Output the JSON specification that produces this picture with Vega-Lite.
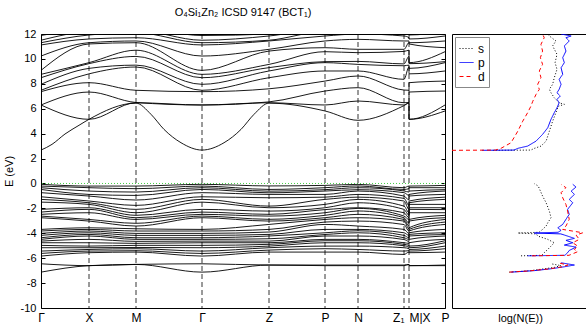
{
"$schema": "https://vega.github.io/schema/vega-lite/v6.json",
"background": "white",
"padding": {"left": 2, "top": 6, "right": 0, "bottom": 0},
"config": {"font": "Liberation Sans", "view": {"stroke": "black", "strokeWidth": 1}, "axis": {"labelFont": "Liberation Sans", "titleFont": "Liberation Sans", "labelColor": "black", "titleColor": "black", "labelFontSize": 11, "titleFontSize": 11, "titleFontWeight": "normal"}, "legend": {"labelFont": "Liberation Sans"}},
"spacing": 1,
"resolve": {"legend": {"color": "independent", "strokeDash": "independent"}},
"datasets": {
"kpts": [{"k":48},{"k":95},{"k":161},{"k":228},{"k":284},{"k":317},{"k":363},{"k":368}],
"bands": [
{"b":"c1","k":0,"E":2.68},{"b":"c1","k":11,"E":3.14},{"b":"c1","k":24,"E":3.97},{"b":"c1","k":38,"E":4.67},{"b":"c1","k":48,"E":5.15},{"b":"c1","k":95,"E":6.45},{"b":"c1","k":110,"E":5.55},{"b":"c1","k":123,"E":4.34},{"b":"c1","k":140,"E":3.27},{"b":"c1","k":161,"E":2.68},{"b":"c1","k":183,"E":3.27},{"b":"c1","k":200,"E":4.34},{"b":"c1","k":213,"E":5.55},{"b":"c1","k":228,"E":6.45},{"b":"c1","k":284,"E":5.82},{"b":"c1","k":317,"E":5.07},{"b":"c1","k":363,"E":6.25},{"b":"c1","k":368,"E":6.45},{"b":"c1","k":368.01,"E":5.15},{"b":"c1","k":404,"E":5.82},
{"b":"c2","k":0,"E":6.3},{"b":"c2","k":48,"E":5.15},{"b":"c2","k":95,"E":6.48},{"b":"c2","k":161,"E":6.3},{"b":"c2","k":228,"E":6.48},{"b":"c2","k":284,"E":6.3},{"b":"c2","k":317,"E":6.62},{"b":"c2","k":363,"E":6.3},{"b":"c2","k":368,"E":6.48},{"b":"c2","k":368.01,"E":5.15},{"b":"c2","k":404,"E":6.3},
{"b":"c3","k":0,"E":6.3},{"b":"c3","k":48,"E":7.34},{"b":"c3","k":95,"E":6.5},{"b":"c3","k":161,"E":6.3},{"b":"c3","k":228,"E":6.55},{"b":"c3","k":284,"E":7.42},{"b":"c3","k":317,"E":7.69},{"b":"c3","k":363,"E":6.48},{"b":"c3","k":368,"E":6.5},{"b":"c3","k":368.01,"E":7.34},{"b":"c3","k":404,"E":7.42},
{"b":"c4","k":0,"E":7.37},{"b":"c4","k":48,"E":8.09},{"b":"c4","k":95,"E":7.48},{"b":"c4","k":161,"E":7.37},{"b":"c4","k":228,"E":7.6},{"b":"c4","k":284,"E":8.22},{"b":"c4","k":317,"E":8.63},{"b":"c4","k":363,"E":7.5},{"b":"c4","k":368,"E":7.48},{"b":"c4","k":368.01,"E":8.09},{"b":"c4","k":404,"E":8.22},
{"b":"c5","k":0,"E":7.48},{"b":"c5","k":48,"E":8.8},{"b":"c5","k":95,"E":9.35},{"b":"c5","k":161,"E":7.48},{"b":"c5","k":228,"E":8.49},{"b":"c5","k":284,"E":9.03},{"b":"c5","k":317,"E":9.03},{"b":"c5","k":363,"E":8.36},{"b":"c5","k":368,"E":9.35},{"b":"c5","k":368.01,"E":8.8},{"b":"c5","k":404,"E":9.03},
{"b":"c6","k":0,"E":7.96},{"b":"c6","k":48,"E":9.24},{"b":"c6","k":95,"E":9.5},{"b":"c6","k":161,"E":7.96},{"b":"c6","k":228,"E":9.03},{"b":"c6","k":284,"E":9.7},{"b":"c6","k":317,"E":9.56},{"b":"c6","k":363,"E":9.45},{"b":"c6","k":368,"E":9.5},{"b":"c6","k":368.01,"E":9.24},{"b":"c6","k":404,"E":9.7},
{"b":"c7","k":0,"E":8.49},{"b":"c7","k":48,"E":9.62},{"b":"c7","k":95,"E":10.2},{"b":"c7","k":161,"E":8.49},{"b":"c7","k":228,"E":9.3},{"b":"c7","k":284,"E":9.78},{"b":"c7","k":317,"E":9.8},{"b":"c7","k":363,"E":9.6},{"b":"c7","k":368,"E":10.2},{"b":"c7","k":368.01,"E":9.62},{"b":"c7","k":404,"E":9.78},
{"b":"c8","k":0,"E":8.76},{"b":"c8","k":48,"E":9.7},{"b":"c8","k":95,"E":10.7},{"b":"c8","k":161,"E":8.76},{"b":"c8","k":228,"E":9.56},{"b":"c8","k":284,"E":10.58},{"b":"c8","k":317,"E":10.5},{"b":"c8","k":363,"E":10.6},{"b":"c8","k":368,"E":10.7},{"b":"c8","k":368.01,"E":9.7},{"b":"c8","k":404,"E":10.58},
{"b":"c9","k":0,"E":9.08},{"b":"c9","k":48,"E":11.2},{"b":"c9","k":95,"E":11.3},{"b":"c9","k":161,"E":9.08},{"b":"c9","k":228,"E":10.63},{"b":"c9","k":284,"E":10.9},{"b":"c9","k":317,"E":10.77},{"b":"c9","k":363,"E":10.77},{"b":"c9","k":368,"E":11.3},{"b":"c9","k":368.01,"E":11.2},{"b":"c9","k":404,"E":10.9},
{"b":"c10","k":0,"E":10.23},{"b":"c10","k":48,"E":11.3},{"b":"c10","k":95,"E":11.44},{"b":"c10","k":161,"E":10.23},{"b":"c10","k":228,"E":10.77},{"b":"c10","k":284,"E":11.44},{"b":"c10","k":317,"E":11.57},{"b":"c10","k":363,"E":11.44},{"b":"c10","k":368,"E":11.44},{"b":"c10","k":368.01,"E":11.3},{"b":"c10","k":404,"E":11.44},
{"b":"c11","k":0,"E":11.12},{"b":"c11","k":48,"E":11.6},{"b":"c11","k":95,"E":11.7},{"b":"c11","k":161,"E":11.12},{"b":"c11","k":228,"E":11.44},{"b":"c11","k":284,"E":11.84},{"b":"c11","k":317,"E":12.0},{"b":"c11","k":363,"E":11.84},{"b":"c11","k":368,"E":11.7},{"b":"c11","k":368.01,"E":11.6},{"b":"c11","k":404,"E":11.84},
{"b":"c12","k":0,"E":11.3},{"b":"c12","k":48,"E":11.92},{"b":"c12","k":95,"E":12.1},{"b":"c12","k":161,"E":11.3},{"b":"c12","k":228,"E":11.5},{"b":"c12","k":284,"E":12.2},{"b":"c12","k":317,"E":12.2},{"b":"c12","k":363,"E":12.1},{"b":"c12","k":368,"E":12.1},{"b":"c12","k":368.01,"E":11.92},{"b":"c12","k":404,"E":12.2},
{"b":"c13","k":0,"E":11.5},{"b":"c13","k":48,"E":12.2},{"b":"c13","k":95,"E":12.3},{"b":"c13","k":161,"E":11.5},{"b":"c13","k":228,"E":11.84},{"b":"c13","k":284,"E":12.4},{"b":"c13","k":317,"E":12.4},{"b":"c13","k":363,"E":12.3},{"b":"c13","k":368,"E":12.3},{"b":"c13","k":368.01,"E":12.2},{"b":"c13","k":404,"E":12.4},
{"b":"c14","k":0,"E":11.88},{"b":"c14","k":48,"E":12.4},{"b":"c14","k":95,"E":12.5},{"b":"c14","k":161,"E":11.88},{"b":"c14","k":228,"E":12.0},{"b":"c14","k":284,"E":12.6},{"b":"c14","k":317,"E":12.6},{"b":"c14","k":363,"E":12.5},{"b":"c14","k":368,"E":12.5},{"b":"c14","k":368.01,"E":12.4},{"b":"c14","k":404,"E":12.6},
{"b":"v1","k":0,"E":-0.07},{"b":"v1","k":48,"E":-0.21},{"b":"v1","k":95,"E":-0.21},{"b":"v1","k":161,"E":-0.07},{"b":"v1","k":228,"E":-0.2},{"b":"v1","k":284,"E":-0.155},{"b":"v1","k":317,"E":-0.075},{"b":"v1","k":363,"E":-0.34},{"b":"v1","k":368,"E":-0.21},{"b":"v1","k":368.01,"E":-0.21},{"b":"v1","k":404,"E":-0.155},
{"b":"v2","k":0,"E":-0.21},{"b":"v2","k":48,"E":-0.34},{"b":"v2","k":95,"E":-0.42},{"b":"v2","k":161,"E":-0.21},{"b":"v2","k":228,"E":-0.48},{"b":"v2","k":284,"E":-0.34},{"b":"v2","k":317,"E":-0.2},{"b":"v2","k":363,"E":-0.48},{"b":"v2","k":368,"E":-0.42},{"b":"v2","k":368.01,"E":-0.34},{"b":"v2","k":404,"E":-0.34},
{"b":"v3","k":0,"E":-0.34},{"b":"v3","k":48,"E":-0.61},{"b":"v3","k":95,"E":-0.69},{"b":"v3","k":161,"E":-0.34},{"b":"v3","k":228,"E":-0.62},{"b":"v3","k":284,"E":-0.5},{"b":"v3","k":317,"E":-0.34},{"b":"v3","k":363,"E":-0.6},{"b":"v3","k":368,"E":-0.69},{"b":"v3","k":368.01,"E":-0.61},{"b":"v3","k":404,"E":-0.5},
{"b":"v4","k":0,"E":-0.48},{"b":"v4","k":48,"E":-0.88},{"b":"v4","k":95,"E":-0.96},{"b":"v4","k":161,"E":-0.48},{"b":"v4","k":228,"E":-0.75},{"b":"v4","k":284,"E":-0.61},{"b":"v4","k":317,"E":-0.5},{"b":"v4","k":363,"E":-0.74},{"b":"v4","k":368,"E":-0.96},{"b":"v4","k":368.01,"E":-0.88},{"b":"v4","k":404,"E":-0.61},
{"b":"v5","k":0,"E":-0.74},{"b":"v5","k":48,"E":-1.01},{"b":"v5","k":95,"E":-1.33},{"b":"v5","k":161,"E":-0.74},{"b":"v5","k":228,"E":-0.88},{"b":"v5","k":284,"E":-0.88},{"b":"v5","k":317,"E":-0.61},{"b":"v5","k":363,"E":-1.01},{"b":"v5","k":368,"E":-1.33},{"b":"v5","k":368.01,"E":-1.01},{"b":"v5","k":404,"E":-0.88},
{"b":"v6","k":0,"E":-1.07},{"b":"v6","k":48,"E":-1.41},{"b":"v6","k":95,"E":-1.76},{"b":"v6","k":161,"E":-1.07},{"b":"v6","k":228,"E":-1.15},{"b":"v6","k":284,"E":-1.1},{"b":"v6","k":317,"E":-0.88},{"b":"v6","k":363,"E":-1.2},{"b":"v6","k":368,"E":-1.76},{"b":"v6","k":368.01,"E":-1.41},{"b":"v6","k":404,"E":-1.1},
{"b":"v7","k":0,"E":-1.28},{"b":"v7","k":48,"E":-1.55},{"b":"v7","k":95,"E":-2.08},{"b":"v7","k":161,"E":-1.28},{"b":"v7","k":228,"E":-1.82},{"b":"v7","k":284,"E":-1.28},{"b":"v7","k":317,"E":-1.1},{"b":"v7","k":363,"E":-1.41},{"b":"v7","k":368,"E":-2.08},{"b":"v7","k":368.01,"E":-1.55},{"b":"v7","k":404,"E":-1.28},
{"b":"v8","k":0,"E":-1.5},{"b":"v8","k":48,"E":-1.68},{"b":"v8","k":95,"E":-2.35},{"b":"v8","k":161,"E":-1.5},{"b":"v8","k":228,"E":-1.95},{"b":"v8","k":284,"E":-1.68},{"b":"v8","k":317,"E":-1.28},{"b":"v8","k":363,"E":-1.82},{"b":"v8","k":368,"E":-2.35},{"b":"v8","k":368.01,"E":-1.68},{"b":"v8","k":404,"E":-1.68},
{"b":"v9","k":0,"E":-2.08},{"b":"v9","k":48,"E":-1.95},{"b":"v9","k":95,"E":-2.56},{"b":"v9","k":161,"E":-2.08},{"b":"v9","k":228,"E":-2.22},{"b":"v9","k":284,"E":-1.95},{"b":"v9","k":317,"E":-1.55},{"b":"v9","k":363,"E":-2.08},{"b":"v9","k":368,"E":-2.56},{"b":"v9","k":368.01,"E":-1.95},{"b":"v9","k":404,"E":-1.95},
{"b":"v10","k":0,"E":-2.3},{"b":"v10","k":48,"E":-2.08},{"b":"v10","k":95,"E":-2.75},{"b":"v10","k":161,"E":-2.3},{"b":"v10","k":228,"E":-2.48},{"b":"v10","k":284,"E":-2.1},{"b":"v10","k":317,"E":-1.95},{"b":"v10","k":363,"E":-2.35},{"b":"v10","k":368,"E":-2.75},{"b":"v10","k":368.01,"E":-2.08},{"b":"v10","k":404,"E":-2.1},
{"b":"v11","k":0,"E":-2.48},{"b":"v11","k":48,"E":-2.35},{"b":"v11","k":95,"E":-2.89},{"b":"v11","k":161,"E":-2.48},{"b":"v11","k":228,"E":-2.62},{"b":"v11","k":284,"E":-2.35},{"b":"v11","k":317,"E":-2.0},{"b":"v11","k":363,"E":-2.62},{"b":"v11","k":368,"E":-2.89},{"b":"v11","k":368.01,"E":-2.35},{"b":"v11","k":404,"E":-2.35},
{"b":"v12","k":0,"E":-2.62},{"b":"v12","k":48,"E":-2.89},{"b":"v12","k":95,"E":-3.2},{"b":"v12","k":161,"E":-2.62},{"b":"v12","k":228,"E":-2.88},{"b":"v12","k":284,"E":-2.56},{"b":"v12","k":317,"E":-2.21},{"b":"v12","k":363,"E":-2.75},{"b":"v12","k":368,"E":-3.2},{"b":"v12","k":368.01,"E":-2.89},{"b":"v12","k":404,"E":-2.56},
{"b":"v13","k":0,"E":-2.75},{"b":"v13","k":48,"E":-3.02},{"b":"v13","k":95,"E":-3.42},{"b":"v13","k":161,"E":-2.75},{"b":"v13","k":228,"E":-3.02},{"b":"v13","k":284,"E":-2.75},{"b":"v13","k":317,"E":-2.48},{"b":"v13","k":363,"E":-2.89},{"b":"v13","k":368,"E":-3.42},{"b":"v13","k":368.01,"E":-3.02},{"b":"v13","k":404,"E":-2.75},
{"b":"v14","k":0,"E":-3.69},{"b":"v14","k":48,"E":-3.56},{"b":"v14","k":95,"E":-3.64},{"b":"v14","k":161,"E":-3.69},{"b":"v14","k":228,"E":-3.29},{"b":"v14","k":284,"E":-2.89},{"b":"v14","k":317,"E":-2.75},{"b":"v14","k":363,"E":-3.02},{"b":"v14","k":368,"E":-3.64},{"b":"v14","k":368.01,"E":-3.56},{"b":"v14","k":404,"E":-2.89},
{"b":"v15","k":0,"E":-3.82},{"b":"v15","k":48,"E":-3.69},{"b":"v15","k":95,"E":-3.82},{"b":"v15","k":161,"E":-3.82},{"b":"v15","k":228,"E":-3.69},{"b":"v15","k":284,"E":-3.1},{"b":"v15","k":317,"E":-3.02},{"b":"v15","k":363,"E":-3.3},{"b":"v15","k":368,"E":-3.82},{"b":"v15","k":368.01,"E":-3.69},{"b":"v15","k":404,"E":-3.1},
{"b":"v16","k":0,"E":-4.01},{"b":"v16","k":48,"E":-3.82},{"b":"v16","k":95,"E":-4.01},{"b":"v16","k":161,"E":-4.01},{"b":"v16","k":228,"E":-3.9},{"b":"v16","k":284,"E":-3.29},{"b":"v16","k":317,"E":-3.42},{"b":"v16","k":363,"E":-3.69},{"b":"v16","k":368,"E":-4.01},{"b":"v16","k":368.01,"E":-3.82},{"b":"v16","k":404,"E":-3.29},
{"b":"v17","k":0,"E":-4.17},{"b":"v17","k":48,"E":-3.96},{"b":"v17","k":95,"E":-4.17},{"b":"v17","k":161,"E":-4.17},{"b":"v17","k":228,"E":-4.09},{"b":"v17","k":284,"E":-3.69},{"b":"v17","k":317,"E":-3.69},{"b":"v17","k":363,"E":-3.96},{"b":"v17","k":368,"E":-4.17},{"b":"v17","k":368.01,"E":-3.96},{"b":"v17","k":404,"E":-3.69},
{"b":"v18","k":0,"E":-4.36},{"b":"v18","k":48,"E":-4.09},{"b":"v18","k":95,"E":-4.36},{"b":"v18","k":161,"E":-4.36},{"b":"v18","k":228,"E":-4.22},{"b":"v18","k":284,"E":-3.96},{"b":"v18","k":317,"E":-3.8},{"b":"v18","k":363,"E":-4.17},{"b":"v18","k":368,"E":-4.36},{"b":"v18","k":368.01,"E":-4.09},{"b":"v18","k":404,"E":-3.96},
{"b":"v19","k":0,"E":-4.49},{"b":"v19","k":48,"E":-4.22},{"b":"v19","k":95,"E":-4.49},{"b":"v19","k":161,"E":-4.49},{"b":"v19","k":228,"E":-4.44},{"b":"v19","k":284,"E":-4.1},{"b":"v19","k":317,"E":-3.96},{"b":"v19","k":363,"E":-4.36},{"b":"v19","k":368,"E":-4.49},{"b":"v19","k":368.01,"E":-4.22},{"b":"v19","k":404,"E":-4.1},
{"b":"v20","k":0,"E":-4.63},{"b":"v20","k":48,"E":-4.49},{"b":"v20","k":95,"E":-4.65},{"b":"v20","k":161,"E":-4.63},{"b":"v20","k":228,"E":-4.63},{"b":"v20","k":284,"E":-4.22},{"b":"v20","k":317,"E":-4.22},{"b":"v20","k":363,"E":-4.5},{"b":"v20","k":368,"E":-4.65},{"b":"v20","k":368.01,"E":-4.49},{"b":"v20","k":404,"E":-4.22},
{"b":"v21","k":0,"E":-4.76},{"b":"v21","k":48,"E":-4.76},{"b":"v21","k":95,"E":-4.81},{"b":"v21","k":161,"E":-4.76},{"b":"v21","k":228,"E":-4.76},{"b":"v21","k":284,"E":-4.49},{"b":"v21","k":317,"E":-4.49},{"b":"v21","k":363,"E":-4.76},{"b":"v21","k":368,"E":-4.81},{"b":"v21","k":368.01,"E":-4.76},{"b":"v21","k":404,"E":-4.49},
{"b":"v22","k":0,"E":-4.97},{"b":"v22","k":48,"E":-5.03},{"b":"v22","k":95,"E":-4.97},{"b":"v22","k":161,"E":-4.97},{"b":"v22","k":228,"E":-4.89},{"b":"v22","k":284,"E":-4.6},{"b":"v22","k":317,"E":-4.6},{"b":"v22","k":363,"E":-4.89},{"b":"v22","k":368,"E":-4.97},{"b":"v22","k":368.01,"E":-5.03},{"b":"v22","k":404,"E":-4.6},
{"b":"v23","k":0,"E":-5.16},{"b":"v23","k":48,"E":-5.16},{"b":"v23","k":95,"E":-5.14},{"b":"v23","k":161,"E":-5.16},{"b":"v23","k":228,"E":-5.03},{"b":"v23","k":284,"E":-4.76},{"b":"v23","k":317,"E":-4.76},{"b":"v23","k":363,"E":-5.0},{"b":"v23","k":368,"E":-5.14},{"b":"v23","k":368.01,"E":-5.16},{"b":"v23","k":404,"E":-4.76},
{"b":"v24","k":0,"E":-5.43},{"b":"v24","k":48,"E":-5.3},{"b":"v24","k":95,"E":-5.24},{"b":"v24","k":161,"E":-5.43},{"b":"v24","k":228,"E":-5.16},{"b":"v24","k":284,"E":-5.03},{"b":"v24","k":317,"E":-5.03},{"b":"v24","k":363,"E":-5.16},{"b":"v24","k":368,"E":-5.24},{"b":"v24","k":368.01,"E":-5.3},{"b":"v24","k":404,"E":-5.03},
{"b":"v25","k":0,"E":-5.62},{"b":"v25","k":48,"E":-5.43},{"b":"v25","k":95,"E":-5.4},{"b":"v25","k":161,"E":-5.62},{"b":"v25","k":228,"E":-5.35},{"b":"v25","k":284,"E":-5.24},{"b":"v25","k":317,"E":-5.3},{"b":"v25","k":363,"E":-5.43},{"b":"v25","k":368,"E":-5.4},{"b":"v25","k":368.01,"E":-5.43},{"b":"v25","k":404,"E":-5.24},
{"b":"v26","k":0,"E":-5.83},{"b":"v26","k":48,"E":-5.56},{"b":"v26","k":95,"E":-5.51},{"b":"v26","k":161,"E":-5.83},{"b":"v26","k":228,"E":-5.51},{"b":"v26","k":284,"E":-5.51},{"b":"v26","k":317,"E":-5.51},{"b":"v26","k":363,"E":-5.7},{"b":"v26","k":368,"E":-5.51},{"b":"v26","k":368.01,"E":-5.56},{"b":"v26","k":404,"E":-5.51},
{"b":"v27","k":0,"E":-6.45},{"b":"v27","k":48,"E":-6.6},{"b":"v27","k":95,"E":-6.5},{"b":"v27","k":161,"E":-6.45},{"b":"v27","k":228,"E":-6.55},{"b":"v27","k":284,"E":-6.55},{"b":"v27","k":317,"E":-6.55},{"b":"v27","k":363,"E":-6.55},{"b":"v27","k":368,"E":-6.5},{"b":"v27","k":368.01,"E":-6.6},{"b":"v27","k":404,"E":-6.55},
{"b":"v28","k":0,"E":-7.12},{"b":"v28","k":48,"E":-6.6},{"b":"v28","k":95,"E":-6.5},{"b":"v28","k":161,"E":-7.12},{"b":"v28","k":228,"E":-6.55},{"b":"v28","k":284,"E":-6.6},{"b":"v28","k":317,"E":-6.6},{"b":"v28","k":363,"E":-6.6},{"b":"v28","k":368,"E":-6.5},{"b":"v28","k":368.01,"E":-6.6},{"b":"v28","k":404,"E":-6.6}
],
"dos": [
{"o":"s","p":"c","E":2.66,"u":1.5},{"o":"s","p":"c","E":2.68,"u":2.9},{"o":"s","p":"c","E":2.82,"u":3.03},{"o":"s","p":"c","E":3.0,"u":3.27},{"o":"s","p":"c","E":3.4,"u":3.46},{"o":"s","p":"c","E":4.2,"u":3.58},{"o":"s","p":"c","E":5.0,"u":3.7},{"o":"s","p":"c","E":5.68,"u":3.82},{"o":"s","p":"c","E":6.2,"u":3.91},{"o":"s","p":"c","E":6.35,"u":4.13},{"o":"s","p":"c","E":6.48,"u":3.94},{"o":"s","p":"c","E":6.88,"u":3.76},{"o":"s","p":"c","E":7.28,"u":3.64},{"o":"s","p":"c","E":7.56,"u":3.58},{"o":"s","p":"c","E":7.96,"u":3.7},{"o":"s","p":"c","E":8.49,"u":3.76},{"o":"s","p":"c","E":9.16,"u":3.86},{"o":"s","p":"c","E":9.7,"u":3.79},{"o":"s","p":"c","E":10.37,"u":3.86},{"o":"s","p":"c","E":11.04,"u":3.7},{"o":"s","p":"c","E":11.44,"u":3.82},{"o":"s","p":"c","E":11.84,"u":3.58},{"o":"s","p":"c","E":12.0,"u":3.52},
{"o":"p","p":"c","E":2.66,"u":1.1},{"o":"p","p":"c","E":2.68,"u":2.28},{"o":"p","p":"c","E":2.82,"u":2.42},{"o":"p","p":"c","E":3.0,"u":2.78},{"o":"p","p":"c","E":3.4,"u":3.09},{"o":"p","p":"c","E":3.94,"u":3.33},{"o":"p","p":"c","E":4.47,"u":3.52},{"o":"p","p":"c","E":5.15,"u":3.64},{"o":"p","p":"c","E":5.68,"u":3.76},{"o":"p","p":"c","E":6.08,"u":3.86},{"o":"p","p":"c","E":6.48,"u":3.94},{"o":"p","p":"c","E":6.75,"u":3.86},{"o":"p","p":"c","E":7.02,"u":3.98},{"o":"p","p":"c","E":7.28,"u":3.86},{"o":"p","p":"c","E":7.56,"u":3.94},{"o":"p","p":"c","E":7.96,"u":4.01},{"o":"p","p":"c","E":8.36,"u":3.94},{"o":"p","p":"c","E":8.76,"u":4.07},{"o":"p","p":"c","E":9.29,"u":4.01},{"o":"p","p":"c","E":9.7,"u":4.13},{"o":"p","p":"c","E":10.1,"u":4.07},{"o":"p","p":"c","E":10.63,"u":4.19},{"o":"p","p":"c","E":11.04,"u":4.13},{"o":"p","p":"c","E":11.44,"u":4.31},{"o":"p","p":"c","E":11.7,"u":4.19},{"o":"p","p":"c","E":11.84,"u":4.38},{"o":"p","p":"c","E":12.0,"u":4.01},
{"o":"d","p":"c","E":2.66,"u":0},{"o":"d","p":"c","E":2.68,"u":1.6},{"o":"d","p":"c","E":2.82,"u":1.8},{"o":"d","p":"c","E":3.27,"u":2.17},{"o":"d","p":"c","E":4.2,"u":2.42},{"o":"d","p":"c","E":5.0,"u":2.6},{"o":"d","p":"c","E":5.68,"u":2.78},{"o":"d","p":"c","E":6.2,"u":2.9},{"o":"d","p":"c","E":6.6,"u":2.97},{"o":"d","p":"c","E":7.15,"u":3.09},{"o":"d","p":"c","E":7.55,"u":3.21},{"o":"d","p":"c","E":7.96,"u":3.15},{"o":"d","p":"c","E":8.49,"u":3.27},{"o":"d","p":"c","E":9.03,"u":3.21},{"o":"d","p":"c","E":9.56,"u":3.33},{"o":"d","p":"c","E":10.1,"u":3.25},{"o":"d","p":"c","E":10.63,"u":3.33},{"o":"d","p":"c","E":11.17,"u":3.27},{"o":"d","p":"c","E":11.7,"u":3.39},{"o":"d","p":"c","E":12.0,"u":3.33},
{"o":"s","p":"v1","E":-0.02,"u":3.03},{"o":"s","p":"v1","E":-0.21,"u":3.17},{"o":"s","p":"v1","E":-0.61,"u":3.25},{"o":"s","p":"v1","E":-1.01,"u":3.33},{"o":"s","p":"v1","E":-1.55,"u":3.46},{"o":"s","p":"v1","E":-2.22,"u":3.58},{"o":"s","p":"v1","E":-2.75,"u":3.64},{"o":"s","p":"v1","E":-3.16,"u":3.52},{"o":"s","p":"v1","E":-3.42,"u":3.46},{"o":"s","p":"v1","E":-3.69,"u":3.33},{"o":"s","p":"v1","E":-3.92,"u":3.2},{"o":"s","p":"v1","E":-3.98,"u":2.42},{"o":"s","p":"v1","E":-4.05,"u":3.1},{"o":"s","p":"v1","E":-4.22,"u":3.15},{"o":"s","p":"v1","E":-4.49,"u":3.52},{"o":"s","p":"v1","E":-4.76,"u":3.76},{"o":"s","p":"v1","E":-5.03,"u":3.64},{"o":"s","p":"v1","E":-5.3,"u":3.52},{"o":"s","p":"v1","E":-5.56,"u":3.39},{"o":"s","p":"v1","E":-5.77,"u":3.3},{"o":"s","p":"v1","E":-5.81,"u":2.54},
{"o":"s","p":"v2","E":-6.45,"u":3.64},{"o":"s","p":"v2","E":-6.6,"u":4.01},{"o":"s","p":"v2","E":-6.74,"u":3.76},{"o":"s","p":"v2","E":-6.85,"u":3.39},{"o":"s","p":"v2","E":-7.0,"u":2.9},{"o":"s","p":"v2","E":-7.12,"u":2.11},
{"o":"p","p":"v1","E":-0.07,"u":4.44},{"o":"p","p":"v1","E":-0.29,"u":4.56},{"o":"p","p":"v1","E":-0.61,"u":4.38},{"o":"p","p":"v1","E":-0.88,"u":4.5},{"o":"p","p":"v1","E":-1.28,"u":4.31},{"o":"p","p":"v1","E":-1.55,"u":4.44},{"o":"p","p":"v1","E":-2.08,"u":4.25},{"o":"p","p":"v1","E":-2.48,"u":4.31},{"o":"p","p":"v1","E":-2.88,"u":4.19},{"o":"p","p":"v1","E":-3.29,"u":4.07},{"o":"p","p":"v1","E":-3.56,"u":3.89},{"o":"p","p":"v1","E":-3.77,"u":4.01},{"o":"p","p":"v1","E":-3.92,"u":3.9},{"o":"p","p":"v1","E":-3.98,"u":3.03},{"o":"p","p":"v1","E":-4.05,"u":4.0},{"o":"p","p":"v1","E":-4.14,"u":4.13},{"o":"p","p":"v1","E":-4.41,"u":4.5},{"o":"p","p":"v1","E":-4.57,"u":4.19},{"o":"p","p":"v1","E":-4.76,"u":4.44},{"o":"p","p":"v1","E":-4.95,"u":4.13},{"o":"p","p":"v1","E":-5.11,"u":4.56},{"o":"p","p":"v1","E":-5.38,"u":4.31},{"o":"p","p":"v1","E":-5.56,"u":4.25},{"o":"p","p":"v1","E":-5.77,"u":4.15},{"o":"p","p":"v1","E":-5.81,"u":2.78},
{"o":"p","p":"v2","E":-6.37,"u":4.01},{"o":"p","p":"v2","E":-6.55,"u":4.5},{"o":"p","p":"v2","E":-6.69,"u":4.13},{"o":"p","p":"v2","E":-6.85,"u":3.64},{"o":"p","p":"v2","E":-7.0,"u":3.03},{"o":"p","p":"v2","E":-7.12,"u":2.17},
{"o":"d","p":"v1","E":-0.07,"u":4.01},{"o":"d","p":"v1","E":-0.34,"u":4.19},{"o":"d","p":"v1","E":-0.74,"u":4.01},{"o":"d","p":"v1","E":-1.15,"u":4.07},{"o":"d","p":"v1","E":-1.69,"u":4.19},{"o":"d","p":"v1","E":-2.22,"u":4.25},{"o":"d","p":"v1","E":-2.88,"u":4.31},{"o":"d","p":"v1","E":-3.42,"u":4.19},{"o":"d","p":"v1","E":-3.69,"u":4.07},{"o":"d","p":"v1","E":-3.96,"u":4.81},{"o":"d","p":"v1","E":-4.14,"u":4.56},{"o":"d","p":"v1","E":-4.49,"u":4.68},{"o":"d","p":"v1","E":-4.76,"u":4.44},{"o":"d","p":"v1","E":-5.03,"u":4.62},{"o":"d","p":"v1","E":-5.3,"u":4.5},{"o":"d","p":"v1","E":-5.48,"u":4.62},{"o":"d","p":"v1","E":-5.77,"u":4.3},{"o":"d","p":"v1","E":-5.81,"u":2.94},
{"o":"d","p":"v2","E":-6.37,"u":3.9},{"o":"d","p":"v2","E":-6.55,"u":4.26},{"o":"d","p":"v2","E":-6.71,"u":4.01},{"o":"d","p":"v2","E":-6.87,"u":3.53},{"o":"d","p":"v2","E":-7.03,"u":2.79},{"o":"d","p":"v2","E":-7.12,"u":2.11}
]
},
"hconcat": [
{
"width": 404, "height": 274,
"title": {"text": "O₄Si₁Zn₂ ICSD 9147 (BCT₁)", "fontSize": 11, "fontWeight": "normal", "font": "Liberation Sans", "offset": 10, "anchor": "middle", "color": "black"},
"resolve": {"axis": {"y": "independent"}},
"layer": [
{"data": {"name": "kpts"}, "mark": {"type": "rule", "strokeDash": [5, 3], "color": "black", "strokeWidth": 0.8},
 "encoding": {"x": {"field": "k", "type": "quantitative", "scale": {"domain": [0, 404], "nice": false},
  "axis": {"values": [0, 48, 95, 161, 228, 284, 317, 363, 368, 404], "labelExpr": "datum.value==0||datum.value==161?'Γ':datum.value==48?'X':datum.value==95?'M':datum.value==228?'Z':datum.value==284||datum.value==404?'P':datum.value==317?'N':datum.value==363?'Z₁':'M|X'", "ticks": false, "domain": false, "grid": false, "title": null, "labelOverlap": false, "labelFontSize": 12, "labelPadding": 4, "labelAlign": {"condition": [{"test": "datum.value==363", "value": "right"}, {"test": "datum.value==368", "value": "left"}], "value": "center"}}}}},
{"data": {"values": [{"E": 0}]}, "mark": {"type": "rule", "color": "#44cc44", "strokeDash": [1, 2], "strokeWidth": 1},
 "encoding": {"y": {"field": "E", "type": "quantitative", "scale": {"domain": [-10, 12], "nice": false},
  "axis": {"orient": "right", "values": [-10, -8, -6, -4, -2, 0, 2, 4, 6, 8, 10, 12], "labels": false, "tickSize": -4, "tickColor": "black", "domain": false, "grid": false, "title": null}}}},
{"data": {"name": "bands"}, "mark": {"type": "line", "interpolate": "monotone", "color": "black", "strokeWidth": 0.9, "clip": true},
 "encoding": {"x": {"field": "k", "type": "quantitative"},
  "y": {"field": "E", "type": "quantitative", "scale": {"domain": [-10, 12], "nice": false},
   "axis": {"orient": "left", "values": [-10, -8, -6, -4, -2, 0, 2, 4, 6, 8, 10, 12], "labelExpr": "datum.value + ''", "tickSize": -4, "tickColor": "black", "domain": false, "grid": false, "title": "E (eV)", "labelPadding": 9, "titlePadding": 6}},
  "detail": {"field": "b", "type": "nominal"},
  "order": {"field": "k", "type": "quantitative"}}}
]
},
{
"width": 136, "height": 274,
"data": {"name": "dos"},
"mark": {"type": "line", "strokeWidth": 1, "clip": true},
"encoding": {
 "x": {"field": "u", "type": "quantitative", "scale": {"domain": [0, 5], "nice": false}, "axis": {"title": "log(N(E))", "labels": false, "ticks": false, "domain": false, "grid": false, "titlePadding": 4}},
 "y": {"field": "E", "type": "quantitative", "scale": {"domain": [-10, 12], "nice": false}, "axis": null},
 "color": {"field": "o", "type": "nominal", "scale": {"domain": ["s", "p", "d"], "range": ["#000000", "#0000ff", "#ff0000"]}, "legend": {"orient": "top-left", "title": null, "symbolType": "stroke", "symbolSize": 196, "strokeColor": "#888888", "fillColor": "white", "padding": 4, "offset": 3, "labelFontSize": 12, "symbolStrokeWidth": 1, "rowPadding": 0, "labelOffset": 4, "labelExpr": "datum.label + '\u00a0\u00a0\u00a0\u00a0\u00a0\u00a0\u00a0\u00a0\u00a0\u00a0'"}},
 "strokeDash": {"field": "o", "type": "nominal", "scale": {"domain": ["s", "p", "d"], "range": [[1, 2], [1, 0], [4, 3]]}, "legend": {"orient": "top-left", "title": null, "symbolType": "stroke", "symbolSize": 196, "strokeColor": "#888888", "fillColor": "white", "padding": 4, "offset": 3, "labelFontSize": 12, "symbolStrokeWidth": 1, "rowPadding": 0, "labelOffset": 4, "labelExpr": "datum.label + '\u00a0\u00a0\u00a0\u00a0\u00a0\u00a0\u00a0\u00a0\u00a0\u00a0'"}},
 "detail": {"field": "p", "type": "nominal"},
 "order": {"field": "E", "type": "quantitative"}
}
}
]
}
